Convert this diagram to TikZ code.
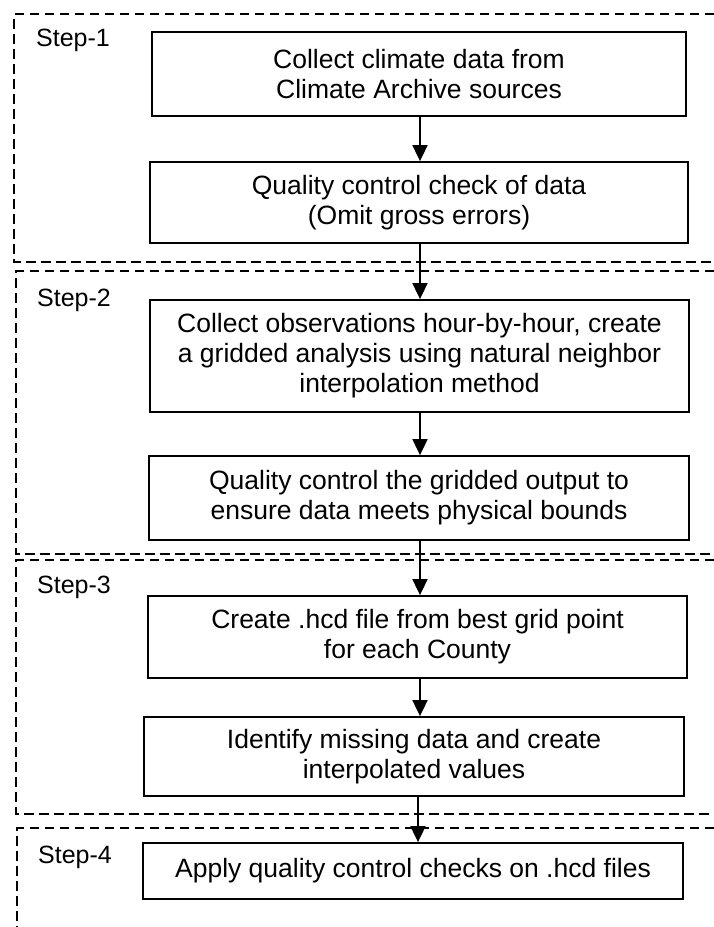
\documentclass[tikz,border=0pt]{standalone}
\usepackage{fontspec}
\setmainfont{Liberation Sans}
\usetikzlibrary{arrows.meta}
\begin{document}
\begin{tikzpicture}[x=1pt,y=-1pt,
  stepframe/.style={line width=1.7pt,dash pattern=on 9.5pt off 5.5pt},
  steplabel/.style={anchor=base west,inner sep=0pt,font=\fontsize{25}{29}\selectfont},
  procbox/.style={draw,line width=1.8pt,align=center,inner sep=0pt,
    font=\fontsize{26.5}{30}\selectfont},
  flow/.style={line width=1.8pt,-{Triangle[length=16pt,width=15pt]}}]
\useasboundingbox (0,0) rectangle (714,927);
% step frames
\draw[stepframe] (714,14) -- (14,14) -- (14,262) -- (714,262);
\draw[stepframe] (714,271) -- (16,271) -- (16,554) -- (714,554);
\draw[stepframe] (714,560) -- (16,560) -- (16,814) -- (714,814);
\draw[stepframe] (714,828) -- (17,828) -- (17,930);
% step labels
\node[steplabel] (s1) at (36,46) {Step-1};
\node[steplabel] (s2) at (37,306) {Step-2};
\node[steplabel] (s3) at (37,593) {Step-3};
\node[steplabel] (s4) at (38,863) {Step-4};
% process boxes
\node[procbox,minimum width=534pt,minimum height=84pt] (b1) at (419,74)
  {Collect climate data from\\Climate Archive sources};
\node[procbox,minimum width=538pt,minimum height=81pt] (b2) at (419,202.5)
  {Quality control check of data\\(Omit gross errors)};
\node[procbox,minimum width=539pt,minimum height=112pt] (b3) at (419.5,356)
  {Collect observations hour-by-hour, create\\a gridded analysis using natural neighbor\\interpolation method};
\node[procbox,minimum width=540pt,minimum height=84pt] (b4) at (419,498)
  {Quality control the gridded output to\\ensure data meets physical bounds};
\node[procbox,minimum width=539pt,minimum height=82pt] (b5) at (417.5,637)
  {Create .hcd file from best grid point\\for each County};
\node[procbox,minimum width=540pt,minimum height=79pt] (b6) at (414,756.5)
  {Identify missing data and create\\interpolated values};
\node[procbox,minimum width=540pt,minimum height=56pt] (b7) at (413,871)
  {Apply quality control checks on .hcd files};
% connectors
\draw[flow] (b1.south -| 420,0) -- (b2.north -| 420,0);
\draw[flow] (b2.south -| 420,0) -- (b3.north -| 420,0);
\draw[flow] (b3.south -| 420,0) -- (b4.north -| 420,0);
\draw[flow] (b4.south -| 420,0) -- (b5.north -| 420,0);
\draw[flow] (b5.south -| 420,0) -- (b6.north -| 420,0);
\draw[flow] (b6.south -| 418,0) -- (b7.north -| 418,0);
\end{tikzpicture}
\end{document}
